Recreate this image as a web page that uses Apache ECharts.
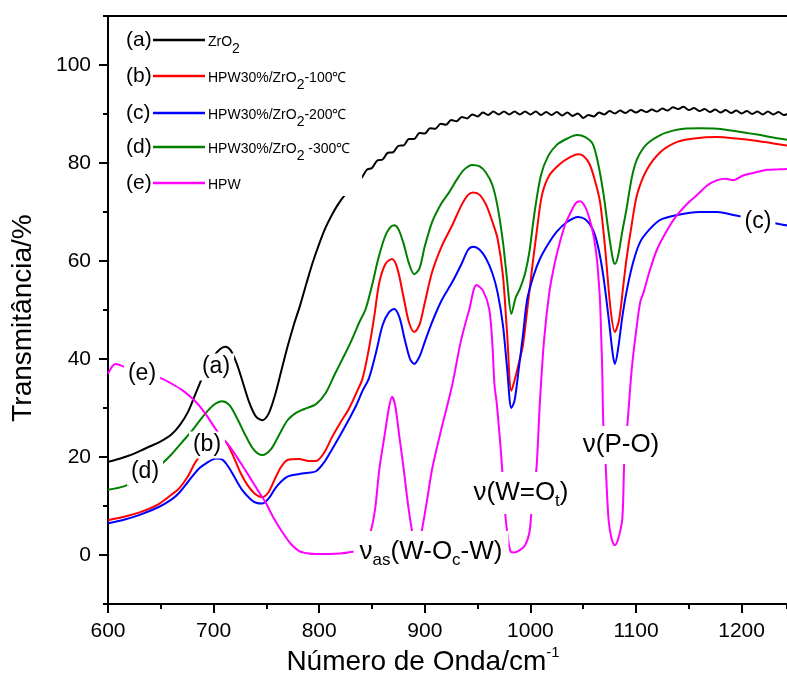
<!DOCTYPE html>
<html><head><meta charset="utf-8">
<script src="https://cdn.jsdelivr.net/npm/echarts@6/dist/echarts.min.js"></script>
<style>html,body{margin:0;padding:0;background:#fff}#c{width:787px;height:680px}</style>
</head><body><div id="c"></div>
<script>
const FONT = 'Liberation Sans, Arial, sans-serif';
// Tick labels
const xTicks = [600, 700, 800, 900, 1000, 1100, 1200];
const yTicks = [0, 20, 40, 60, 80, 100];
// Series names
const names = ['ZrO2', 'HPW30%/ZrO2-100℃', 'HPW30%/ZrO2-200℃', 'HPW30%/ZrO2 -300℃', 'HPW'];

// (a) ZrO2 - black
const zrX = [600,610,620,630,640,650,660,668,676,684,692,700,706,711,716,722,728,734,740,746,752,758,764,770,776,782,788,794,800,806,812,818,824,830,
835,840,845,850,855,860,865,870,875,880,885,890,895,900,905,910,915,920,925,930,935,940,945,950,955,960,965,970,975,980,985,990,995,1000,
1005,1010,1015,1020,1025,1030,1035,1040,1045,1050,1055,1060,1065,1070,1075,1080,1085,1090,1095,1100,1105,1110,1115,1120,1125,1130,1135,1140,
1145,1150,1155,1160,1165,1170,1175,1180,1185,1190,1195,1200,1205,1210,1215,1220,1225,1230,1235,1240,1245];
const zrY = [19.0,19.6,20.3,21.2,22.2,23.2,24.6,26.5,29.3,33.5,37.5,40.5,42.0,42.5,41.8,39.0,35.0,31.0,28.3,27.5,28.8,32.5,37.5,42.5,47.0,51.0,55.5,59.8,63.5,66.8,69.4,71.6,73.4,74.8,
76.3,76.9,78.6,79.0,80.5,80.7,82.1,82.2,83.5,83.6,84.9,84.9,86.1,86.0,87.1,87.0,88.0,87.8,88.8,88.5,89.4,89.1,89.9,89.5,90.3,89.8,90.5,89.9,90.5,89.9,90.5,89.9,90.5,89.9,
90.5,89.8,90.4,89.8,90.4,89.7,90.3,89.6,90.1,89.2,89.8,89.5,90.3,89.9,90.6,90.1,90.7,90.2,90.8,90.3,90.8,90.4,90.9,90.5,91.1,90.7,91.4,91.0,
91.5,90.8,91.2,90.6,91.0,90.4,90.9,90.3,90.8,90.2,90.7,90.1,90.6,90.0,90.5,89.9,90.5,89.9,90.4,89.8,90.2];

// (b) 100 C - red
const b100X = [600,615,630,648,660,667,675,683,692,700,706,712,718,725,732,739,746,752,758,764,770,781,790,797,805,812,820,828,835,841,847,852,857,863,869,874,880,885,890,895,900,907,916,926,935,941,946,952,958,964,969,974,978,982,986,990,993,997,1002,1006,1011,1018,1028,1036,1045,1050,1056,1061,1066,1071,1076,1080,1084,1088,1091,1096,1101,1110,1123,1139,1155,1177,1195,1215,1230,1245];
const b100Y = [7.1,7.8,8.7,10.4,12.3,13.5,15.8,19.0,21.5,23.2,23.8,23.0,20.5,17.0,14.3,12.5,11.8,12.8,15.5,18.0,19.4,19.6,19.2,19.2,21.0,24.0,27.0,29.8,33.0,36.0,42.0,48.5,55.7,59.5,60.4,58.5,52.5,47.5,45.5,47.0,51.5,57.8,63.0,67.3,71.5,73.5,74.0,73.5,71.5,68.0,64.5,57.0,45.0,33.5,36.5,40.0,42.9,50.0,59.2,66.0,73.5,77.5,79.8,81.0,81.8,81.5,79.8,76.5,72.0,62.0,50.0,45.5,48.0,55.0,60.4,67.5,73.5,78.5,82.2,84.3,85.0,85.3,85.0,84.5,84.0,83.5];

// (c) 200 C - blue
const c200X = [600,615,630,648,660,667,676,686,695,702,708,714,720,727,735,741,746,752,758,764,770,780,790,797,805,812,820,828,835,841,847,854,860,866,871,876,881,886,890,895,900,907,916,926,935,941,946,952,958,964,969,974,978,982,985,989,993,997,1003,1009,1017,1025,1035,1045,1052,1059,1064,1069,1074,1078,1080,1083,1087,1091,1097,1104,1113,1123,1139,1160,1177,1192,1210,1225,1234,1245];
const c200Y = [6.5,7.2,8.2,9.8,11.3,12.6,15.0,17.6,19.0,19.7,19.5,18.0,15.8,13.3,11.4,10.6,10.5,11.5,13.5,15.0,16.0,16.5,16.8,17.1,19.0,21.5,24.5,27.6,30.5,33.5,36.0,41.5,46.9,49.5,50.2,48.5,44.0,40.0,39.0,40.5,43.5,47.6,52.0,55.7,59.5,62.3,62.9,62.3,60.5,57.5,53.5,46.9,38.0,30.0,31.5,38.0,45.0,52.2,57.0,60.4,63.5,66.0,68.0,69.0,68.5,66.5,63.0,57.0,48.5,41.0,39.0,42.0,48.5,53.7,59.5,63.9,66.5,68.4,69.4,70.0,70.0,69.4,68.7,68.0,67.6,67.2];

// (d) 300 C - green
const d300X = [600,615,630,640,650,660,670,680,690,700,708,715,722,730,738,746,754,762,770,778,786,797,806,815,822,830,838,844,850,856,862,867,871,875,880,885,890,895,900,907,915,923,930,937,945,952,958,964,969,974,978,982,986,990,995,999,1004,1010,1017,1025,1035,1044,1052,1059,1064,1069,1074,1078,1080,1083,1087,1091,1096,1101,1110,1123,1135,1145,1160,1177,1195,1215,1230,1245];
const d300Y = [13.3,14.0,15.5,16.5,18.4,20.5,23.0,25.5,28.3,30.6,31.4,30.6,28.0,24.5,21.5,20.4,21.5,24.5,27.5,29.0,29.8,30.8,33.0,37.0,40.0,43.5,47.5,50.2,55.0,60.5,64.8,66.8,67.3,66.5,63.5,59.5,57.3,58.5,63.0,68.0,71.5,74.0,76.5,78.6,79.6,79.3,78.0,75.5,71.0,63.9,56.0,49.2,52.5,54.3,57.5,61.8,70.0,77.5,81.5,83.7,85.0,85.7,85.3,83.9,80.0,74.0,66.0,60.5,59.4,61.0,66.0,70.6,77.0,80.8,83.8,85.7,86.6,87.0,87.1,87.0,86.5,85.8,85.2,84.7];

// (e) HPW - magenta
const hpwX = [600,604,607,612,620,630,640,651,660,670,678,686,694,702,710,717,725,733,741,749,757,765,773,781,790,797,810,820,830,838,844,849,853,857,862,866,869,872,876,880,884,888,891,894,897,902,907,916,926,934,942,949,955,961,964,966,968,971,973,976,978,981,984,990,995,999,1001,1004,1006,1009,1013,1018,1023,1028,1033,1037,1043,1047,1052,1056,1060,1063,1065,1066,1067,1068,1069,1071,1074,1077,1080,1083,1087,1089,1092,1096,1100,1104,1107,1113,1120,1130,1139,1150,1158,1168,1177,1185,1192,1202,1212,1224,1235,1245];
const hpwY = [37.0,38.5,39.0,38.7,38.0,37.2,36.8,36.0,35.0,33.7,32.3,30.6,28.3,25.7,23.5,21.6,19.0,16.3,13.5,10.8,7.5,4.7,2.3,0.8,0.3,0.2,0.2,0.3,0.6,1.0,2.5,5.0,9.5,17.6,24.5,30.0,32.3,30.5,24.0,17.6,10.5,4.7,1.5,1.5,4.7,11.0,17.6,26.0,34.7,43.5,50.0,55.1,54.0,50.2,43.0,34.7,31.2,24.0,18.4,8.8,4.7,0.8,0.5,1.0,2.0,4.5,8.8,14.5,18.4,31.2,44.0,53.7,59.5,63.9,67.5,69.4,71.8,72.2,71.0,68.6,65.0,60.4,55.0,51.6,45.0,38.0,27.0,19.6,7.3,3.2,2.0,3.2,7.3,19.6,27.0,38.0,45.5,51.6,53.5,58.0,62.4,66.5,69.4,72.0,73.5,75.5,76.5,76.8,76.5,77.5,78.0,78.6,78.7,78.8];

const colors = ['#000000', '#ff0000', '#0000ff', '#008000', '#ff00ff'];
const xs = [zrX, b100X, c200X, d300X, hpwX];
const ys = [zrY, b100Y, c200Y, d300Y, hpwY];
const letters = ['(a)', '(b)', '(c)', '(d)', '(e)'];
const legendNames = ['ZrO{s|2}', 'HPW30%/ZrO{s|2}-100℃', 'HPW30%/ZrO{s|2}-200℃', 'HPW30%/ZrO{s|2} -300℃', 'HPW'];

const chart = echarts.init(document.getElementById('c'), null, {renderer: 'canvas'});

const series = names.map((n, i) => ({
  name: n, type: 'line', xAxisIndex: 0, yAxisIndex: 0,
  data: xs[i].map((x, j) => [x, ys[i][j]]),
  showSymbol: false, smooth: 0.3, clip: true,
  lineStyle: {color: colors[i], width: 2}, itemStyle: {color: colors[i]},
  z: 2 + i
}));

const graphics = [];
// legend box
graphics.push({type: 'rect', z: 50, shape: {x: 116, y: 22, width: 246, height: 174}, style: {fill: '#fff'}});
const rowsY = [40, 76, 113, 147, 183];
rowsY.forEach((yy, i) => {
  graphics.push({type: 'text', z: 51, x: 126, y: yy, style: {text: letters[i], font: '21px ' + FONT, fill: '#000', verticalAlign: 'middle', align: 'left'}});
  graphics.push({type: 'line', z: 51, shape: {x1: 153, y1: yy, x2: 205, y2: yy}, style: {stroke: colors[i], lineWidth: 2.5}});
  graphics.push({type: 'text', z: 51, x: 208, y: yy + 2, style: {text: legendNames[i], fontSize: 14, fontFamily: FONT, fill: '#000', verticalAlign: 'middle', align: 'left',
    rich: {s: {fontSize: 14, fontFamily: FONT, padding: [14, 0, 0, 0]}}}});
});
// curve labels
const curveLabels = [
  ['(a)', 216, 367], ['(e)', 142, 374], ['(d)', 145, 472], ['(b)', 207, 445], ['(c)', 758, 222]
];
curveLabels.forEach(l => {
  graphics.push({type: 'text', z: 52, x: l[1], y: l[2], style: {text: l[0], font: '23px ' + FONT, fill: '#000', align: 'center', verticalAlign: 'middle', backgroundColor: '#fff', padding: [2, 4]}});
});
const richBand = {
  m: {fontSize: 26, fontFamily: FONT},
  s: {fontSize: 17, fontFamily: FONT, padding: [17, 0, 0, 0]}
};
graphics.push({type: 'text', z: 52, x: 431, y: 552, style: {text: '{m|ν}{s|as}{m|(W-O}{s|c}{m|-W)}', rich: richBand, fill: '#000', align: 'center', verticalAlign: 'middle', backgroundColor: '#fff', padding: [4, 6]}});
graphics.push({type: 'text', z: 52, x: 521, y: 493, style: {text: '{m|ν(W=O}{s|t}{m|)}', rich: richBand, fill: '#000', align: 'center', verticalAlign: 'middle', backgroundColor: '#fff', padding: [4, 6]}});
graphics.push({type: 'text', z: 52, x: 621, y: 445, style: {text: '{m|ν(P-O)}', rich: richBand, fill: '#000', align: 'center', verticalAlign: 'middle', backgroundColor: '#fff', padding: [6, 4]}});
// axis titles
graphics.push({type: 'text', z: 52, x: 423, y: 662, style: {text: '{m|Número de Onda/cm}{p|-1}', fill: '#000', align: 'center', verticalAlign: 'middle',
  rich: {m: {fontSize: 28, fontFamily: FONT}, p: {fontSize: 15, fontFamily: FONT, padding: [0, 0, 18, 0]}}}});
graphics.push({type: 'text', z: 52, x: 23, y: 318, rotation: Math.PI / 2, style: {text: 'Transmitância/%', font: '28px ' + FONT, fill: '#000', align: 'center', verticalAlign: 'middle'}});

const option = {
  animation: false,
  backgroundColor: '#fff',
  grid: [
    {left: 108, right: 0, top: 16, bottom: 76},
    {left: 108, right: 45.4, top: 65, bottom: 125}
  ],
  xAxis: [
    {type: 'value', gridIndex: 0, min: 600, max: 1243, interval: 50, position: 'bottom',
      axisLine: {show: true, onZero: false, lineStyle: {color: '#000', width: 2}},
      axisTick: {show: true, length: 5, lineStyle: {width: 2, color: '#000'}},
      axisLabel: {show: false}, splitLine: {show: false}},
    {type: 'value', gridIndex: 0, min: 600, max: 1243, position: 'top',
      axisLine: {show: true, onZero: false, lineStyle: {color: '#000', width: 2}},
      axisTick: {show: false}, axisLabel: {show: false}, splitLine: {show: false}},
    {type: 'value', gridIndex: 1, min: 600, max: 1200, interval: 100, position: 'bottom', offset: 49,
      axisLine: {show: false, onZero: false},
      axisTick: {show: true, length: 9, lineStyle: {width: 2, color: '#000'}},
      axisLabel: {show: true, color: '#000', fontSize: 21, fontFamily: FONT, margin: 17,
        formatter: v => xTicks.indexOf(v) >= 0 ? String(v) : ''},
      splitLine: {show: false}}
  ],
  yAxis: [
    {type: 'value', gridIndex: 0, min: -10, max: 110, interval: 10,
      axisLine: {show: true, onZero: false, lineStyle: {color: '#000', width: 2}},
      axisTick: {show: true, length: 5, lineStyle: {width: 2, color: '#000'}},
      axisLabel: {show: false}, splitLine: {show: false}},
    {type: 'value', gridIndex: 1, min: 0, max: 100, interval: 20,
      axisLine: {show: false, onZero: false},
      axisTick: {show: true, length: 9, lineStyle: {width: 2, color: '#000'}},
      axisLabel: {show: true, color: '#000', fontSize: 21, fontFamily: FONT, margin: 17,
        formatter: v => yTicks.indexOf(v) >= 0 ? String(v) : ''},
      splitLine: {show: false}}
  ],
  series: series,
  graphic: graphics
};
chart.setOption(option);
</script>
</body></html>
